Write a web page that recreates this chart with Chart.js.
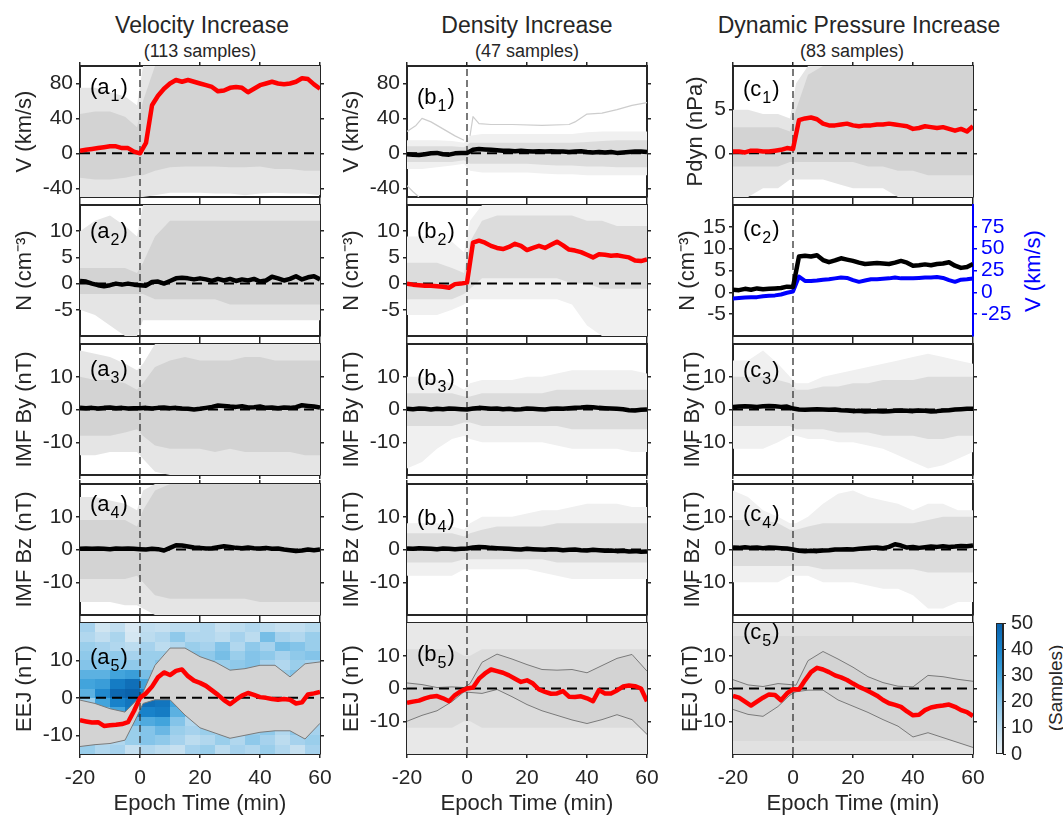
<!DOCTYPE html>
<html>
<head>
<meta charset="utf-8">
<title>Superposed epoch analysis</title>
<script src="https://cdn.jsdelivr.net/npm/chart.js@4.4.1/dist/chart.umd.min.js"></script>
<style>
  html, body { margin: 0; padding: 0; background: #fff; }
  body { position: relative; width: 1063px; height: 818px; overflow: hidden;
         font-family: "Liberation Sans", Arial, Helvetica, sans-serif; color: #262626; }
  canvas { position: absolute; }
  .head { position: absolute; width: 340px; text-align: center; white-space: nowrap; line-height: 1; }
  .vlab { position: absolute; white-space: nowrap; line-height: 1; transform: translate(-50%, -50%) rotate(-90deg); }
</style>
</head>
<body>
<div class="head" style="left:32px;top:14px;font-size:23px">Velocity Increase</div>
<div class="head" style="left:30px;top:42px;font-size:18px">(113 samples)</div>
<div class="head" style="left:357px;top:14px;font-size:23px">Density Increase</div>
<div class="head" style="left:357px;top:42px;font-size:18px">(47 samples)</div>
<div class="head" style="left:689px;top:14px;font-size:23px">Dynamic Pressure Increase</div>
<div class="head" style="left:682px;top:42px;font-size:18px">(83 samples)</div>
<div class="vlab" style="left:1033px;top:271px;font-size:22px;color:#0000ff">V (km/s)</div>
<div class="vlab" style="left:1055px;top:688px;font-size:19px">(Samples)</div>

<script>
const AX = '#262626';
const RED = '#ff0000';
const BLACK = '#000000';
const BLUE = '#0000ff';
Chart.defaults.font.family = '"Liberation Sans", Arial, Helvetica, sans-serif';
Chart.defaults.color = AX;

// panel grid (page pixels)
const COL_X = [80, 407, 733];
const ROW_Y = [66, 205, 344, 484, 623];
const PW = 240, PH = 131;

// epoch time axes (min)
const T2 = [-20,-18,-16,-14,-12,-10,-8,-6,-4,-2,0,2,4,6,8,10,12,14,16,18,20,22,24,26,28,30,32,34,36,38,40,42,44,46,48,50,52,54,56,58,60];
const TB = [-20,-15,-10,-5,-1,1,5,10,15,20,25,30,35,40,45,50,55,60];
const X_TICKS = [-20, 0, 20, 40, 60];

// axis limits and ticks
const V_LIM = [-50, 100], V_TICKS = [-40, 0, 40, 80];
const N_LIM = [-10, 15], N_TICKS = [-5, 0, 5, 10];
const B_LIM = [-20, 20], B_TICKS = [-10, 0, 10];
const EEJ_A_LIM = [-15, 20], EEJ_LIM = [-20, 20], EEJ_TICKS = [-10, 0, 10];
const P_LIM = [-5, 10], P_TICKS = [0, 5];
const N2_LIM = [-10, 20], N2_TICKS = [-5, 0, 5, 10, 15];
const V2_LIM = [-50, 100], V2_TICKS = [-25, 0, 25, 50, 75];

// ---- (a) velocity increase ----
const A1_MEAN = [3,4,5,6,7,8,8,6,6,2,0,12,55,66,74,80,84,82,84,82,80,78,76,71,72,75,76,75,70,74,78,80,82,80,79,80,82,86,85,79,74];
const A1_OH = [75,75,70,65,55,100,100,100,100,100,100,100,100,100,100,100,100,100];
const A1_IH = [45,48,48,42,30,60,100,100,100,100,100,100,100,100,100,100,100,100];
const A1_IL = [-28,-30,-30,-28,-25,-25,-20,-16,-15,-15,-15,-16,-16,-15,-18,-18,-20,-20];
const A1_OL = [-50,-50,-50,-50,-50,-50,-48,-45,-45,-45,-46,-46,-48,-46,-45,-46,-46,-48];

const A2_MEAN = [0.5,0.4,0,-0.3,-0.5,-0.3,0,-0.2,0,-0.2,-0.3,-0.4,0.3,0.4,0,0.5,1,1.1,1,0.8,1,0.8,0.5,0.9,0.6,0.9,0.5,0.8,0.6,0.9,0.4,0.6,1.3,1,0.6,0.9,1.4,0.8,1.2,1.4,0.8];
const A2_OH = [10,12,13,11,9,15,15,15,15,15,15,15,15,15,15,15,15,15];
const A2_IH = [3,3,3,3,2,4,9,12,12,12,12,12,12,12,12,12,12,12];
const A2_IL = [-2,-2,-2,-2,-2,-2,-3,-3,-3,-3,-3,-4,-4,-4,-4,-4,-4,-4];
const A2_OL = [-5,-6,-8,-10,-10,-7,-7,-7,-7,-7,-7,-7,-7,-7,-7,-7,-7,-7];

const A3_MEAN = [0.5,0.4,0.5,0.3,0.5,0.6,0.4,0.5,0.3,0.4,0.4,0.5,0.3,0.5,0.6,0.4,0.5,0.3,0.2,0,0.2,0.5,0.8,1.2,1.1,0.9,0.8,1,0.6,0.7,0.9,0.5,0.6,0.4,0.6,0.5,0.7,1.3,1.1,0.9,0.6];
const A3_OH = [18,17,16,14,12,14,20,20,20,20,20,20,20,20,20,20,20,20];
const A3_IH = [10,9,9,8,6,8,13,15,16,15,15,15,16,16,15,15,15,15];
const A3_IL = [-8,-8,-8,-7,-6,-8,-11,-12,-12,-12,-13,-12,-13,-13,-13,-13,-14,-14];
const A3_OL = [-14,-14,-13,-13,-13,-15,-19,-20,-20,-20,-20,-20,-20,-20,-20,-20,-20,-20];

const A4_MEAN = [0.2,0.3,0.2,0.3,0.2,0.1,0.3,0.2,0.3,0.2,0.1,0,0.2,0.1,-0.3,0.5,1.3,1.2,0.9,0.6,0.5,0.3,0.4,0.7,1,0.8,0.5,0.4,0.6,0.4,0.3,0.5,0.2,0.3,0,-0.2,-0.5,-0.3,0,-0.2,0];
const A4_OH = [16,16,15,14,12,18,20,20,20,20,20,20,20,20,20,20,20,20];
const A4_IH = [9,9,9,9,7,12,18,20,20,20,20,20,20,20,20,20,20,20];
const A4_IL = [-9,-9,-9,-9,-8,-10,-14,-15,-15,-15,-15,-15,-15,-16,-16,-16,-16,-16];
const A4_OL = [-16,-16,-16,-17,-17,-18,-20,-20,-20,-20,-20,-20,-20,-20,-20,-20,-20,-20];

const A5_MEAN = [-6,-6.3,-6.6,-6.5,-7.5,-7.3,-7.2,-7,-6.5,-3.5,0,1.2,3,5.5,6.8,6.1,7.2,7.6,5.8,4.6,4,3.2,2,0.8,-0.6,-1.7,-0.5,0.6,1.3,0.8,0.2,0,-0.3,-0.5,-0.3,-0.5,-1.5,-1.2,0.9,1.2,1.6];
const A5_HI = [-0.6,-1.5,-2.9,-3.8,-0.5,1.5,8.7,13.3,13.3,11,9.6,7.4,7.8,8.7,8.7,5.6,9.1,9.6];
const A5_LO = [-13,-12.5,-12.2,-11.3,-5,-1.5,-0.5,-0.5,-4.6,-8,-9.4,-10.8,-10,-9.2,-8.8,-8.8,-11,-6.8];

// sample counts per (EEJ, time) bin, rows from 20 nT down to -15 nT
const HEAT_T = [-20,-15,-10,-5,0,5,10,15,20,25,30,35,40,45,50,55,60];
const HEAT_E = [20,17.5,15,12.5,10,7.5,5,2.5,0,-2.5,-5,-7.5,-10,-12.5,-15];
const HEAT = [
  [14,6,9,4,9,8,10,10,12,8,10,12,10,8,9,11],
  [12,9,13,5,10,12,18,12,12,10,14,10,22,14,12,16],
  [16,14,12,10,14,10,12,16,14,20,12,18,14,22,20,16],
  [18,16,18,14,16,16,18,20,18,22,16,20,18,14,18,20],
  [20,20,20,18,16,20,22,22,20,16,18,20,14,12,16,14],
  [26,26,30,32,22,24,22,24,22,20,22,20,18,16,20,18],
  [30,32,42,46,30,28,26,24,24,22,22,24,22,22,20,22],
  [26,38,48,50,40,32,30,26,26,24,24,26,24,24,22,24],
  [16,30,40,44,46,44,30,22,22,24,22,22,20,22,20,20],
  [14,22,30,42,40,42,26,18,20,20,20,18,20,18,18,18],
  [16,18,22,24,28,30,20,12,16,16,18,16,16,16,14,14],
  [14,16,18,16,20,24,16,14,16,14,20,16,18,12,18,14],
  [14,10,12,16,20,18,14,10,12,16,12,18,14,10,14,16],
  [16,12,14,8,12,10,8,14,16,10,14,12,16,12,8,14]
];
const CMAP_AT = [0, 10, 20, 30, 40, 50];
const CMAP_RGB = [[238,242,245],[188,220,239],[132,196,233],[66,164,220],[24,130,202],[10,98,172]];
const CB_TICKS = [0, 10, 20, 30, 40, 50];

// ---- (b) density increase ----
const B1_MEAN = [-1,-1.5,-2,-1,0,0.5,-1,-1.5,0,0.5,0.5,4,5,4.5,4,3.5,3,3,2.5,3,2.5,2,2.5,2,2.5,2,2,1.5,2,2.5,1.5,1,1.5,1,1.5,0.5,1,1.5,2,2,1.5];
const B1_OH = [15,15,15,14,12,20,22,22,22,22,22,22,22,24,25,25,25,25];
const B1_IH = [8,8,8,8,7,12,12,12,12,12,12,12,12,13,14,15,15,15];
const B1_IL = [-10,-10,-10,-10,-8,-12,-12,-12,-12,-12,-13,-14,-14,-15,-15,-16,-16,-16];
const B1_OL = [-18,-18,-16,-14,-12,-20,-22,-22,-22,-22,-23,-24,-24,-25,-25,-25,-25,-25];
const B1_X1_T = [-20,-17,-15,-12,-8,-4,-1], B1_X1_V = [25,32,40,36,28,20,15];
const B1_X2_T = [1,2,4,8,15,25,34,36,40,45,50,55,60], B1_X2_V = [20,42,34,33,33,32,33,36,45,46,50,55,58];
const B1_X3_T = [-20,-18,-16], B1_X3_V = [-37,-44,-50];

const B2_MEAN = [0,-0.2,-0.3,-0.4,-0.4,-0.5,-0.6,-0.8,-0.1,0,0.2,7.8,8.2,7.8,7.2,6.8,6.6,7,7.6,7.2,6.4,6.8,7.2,6.8,7.4,8,7.3,6.5,6.3,6,5.5,5,5.6,5.5,5.3,5.4,5.2,5,4.4,4.3,4.6];
const B2_OH = [9,9,9,8,6,12,15,15,15,15,15,15,15,15,15,15,15,15];
const B2_IH = [4,4,4,3,2,8,12,13,13,13,13,13,13,12,12,11,11,11];
const B2_IL = [-3,-3,-3,-3,-2,-1,1,1,1,1,1,1,0,0,-1,-1,-1,-1];
const B2_OL = [-6,-6,-6,-5,-4,-3,-3,-3,-3,-3,-3,-3,-4,-8,-10,-10,-10,-10];

const B3_MEAN = [0.2,0.1,0.3,0.2,0,0.2,0.1,0.3,0.2,0.1,0,0.3,0.5,0.4,0.2,0.3,0.1,0.2,0,0.1,0.3,0.2,0.1,0,0.2,0.3,0.2,0.4,0.5,0.6,0.8,0.7,0.5,0.4,0.3,0.2,0.1,-0.2,-0.3,-0.1,0];
const B3_OH = [10,10,9,8,6,8,9,9,9,10,10,11,12,12,12,12,12,11];
const B3_IH = [5,5,5,5,4,4,5,5,5,5,5,6,6,6,6,6,6,6];
const B3_IL = [-5,-5,-5,-5,-4,-4,-5,-5,-5,-5,-5,-5,-6,-6,-6,-6,-6,-6];
const B3_OL = [-18,-16,-12,-9,-8,-9,-10,-10,-10,-10,-10,-11,-12,-12,-12,-12,-13,-13];

const B4_MEAN = [0.3,0.2,0.4,0.3,0.2,0.1,0.3,0.2,0.1,0.2,0.3,0.6,0.8,0.7,0.5,0.4,0.3,0.2,0.1,0,0.2,0.1,0,-0.1,0.1,0,-0.2,-0.1,0,-0.2,-0.3,-0.1,-0.2,-0.4,-0.3,-0.5,-0.4,-0.6,-0.5,-0.7,-0.6];
const B4_OH = [8,8,8,7,6,8,10,10,10,11,12,12,13,14,14,14,13,13];
const B4_IH = [5,5,5,5,4,5,6,7,7,7,7,8,8,8,8,8,8,8];
const B4_IL = [-4,-4,-4,-4,-3,-3,-3,-3,-3,-3,-3,-4,-4,-4,-4,-4,-4,-4];
const B4_OL = [-8,-8,-8,-8,-6,-6,-6,-6,-6,-6,-7,-8,-9,-9,-9,-9,-9,-9];

const B5_MEAN = [-4.4,-4,-3.7,-3,-2.5,-2.3,-3,-3.9,-2,-0.8,0,0.3,3,4.6,5.8,5.3,4.8,4,3,2,2.5,1.5,-0.3,-1,-1.6,-1.5,-0.8,-2.5,-2.6,-2.4,-3,-3.9,-0.5,-1.5,-1.5,-0.6,0.6,0.9,0.7,0,-3.9];
const B5_HI = [1.7,1.2,0.3,0.5,0.3,1.5,8,10.5,9,7.3,5.8,5.6,5.8,4.8,7,9.2,10.4,5.3];
const B5_LO = [-10,-8.2,-6.8,-4,-1,-1.2,-1.5,-0.3,-2.5,-4.9,-6.8,-8.2,-9.6,-10.7,-9.5,-8,-9.5,-14];
const B5_OH = [20,20,20,20,20,20,20,20,20,20,20,20,20,20,20,20,20,20];
const B5_IH = [12,12,12,12,10,10,12,12,12,12,12,12,12,12,12,12,12,12];
const B5_IL = [-12,-12,-12,-12,-10,-10,-12,-12,-12,-12,-12,-12,-12,-12,-12,-12,-12,-12];
const B5_OL = [-20,-20,-20,-20,-20,-20,-20,-20,-20,-20,-20,-20,-20,-20,-20,-20,-20,-20];

// ---- (c) dynamic pressure increase ----
const C1_MEAN = [0.2,0.2,0.1,0.3,0.3,0.2,0.2,0.3,0.4,0.6,0.5,3.8,4,4.1,3.9,3.4,3.2,3.2,3.3,3.4,3.2,3.1,3.2,3.2,3.3,3.3,3.4,3.3,3.2,3.1,2.8,2.9,3.1,3,2.9,3,2.8,2.6,2.8,2.5,3.1];
const C1_OH = [5,5,4.5,4.5,4,8,10,10,10,10,10,10,10,10,10,10,10,10];
const C1_IH = [3,3,3,3,2.5,5,9,10,10,10,10,10,10,10,10,10,10,10];
const C1_IL = [-1.5,-1.5,-1.5,-1.5,-1,-1,-1,-1,-1,-1,-1.5,-1.5,-2,-2,-2.5,-2.5,-2.5,-2.5];
const C1_OL = [-5,-5,-4,-4,-3,-3,-3,-3,-3.5,-4,-4,-4,-5,-5,-5,-5,-5,-5];

const C2_N = [0.6,0.5,0.8,0.6,0.9,0.7,0.8,0.9,1,1.3,1.2,8.2,8.4,8.2,8.5,7.4,6.9,7.3,7.8,7.5,7.2,6.8,6.5,6.6,6.7,6.6,6.5,6.8,7.2,6.8,6.1,6.2,6.4,6.2,6.5,6.6,6.9,6.1,5.6,5.8,6.5];
const C2_V = [-7,-6.5,-6,-5.5,-5.5,-4.5,-4,-3.5,-2.5,-0.5,1,18,13,13,13.5,14.5,15,16,17,16.5,14,12,13.5,15,15,15.5,16,17,16,16,16,16.5,17,17,17.5,16.5,14,12,14.5,15,16];

const C3_MEAN = [0.8,0.9,1,0.9,0.8,1,1.1,1,0.8,0.9,0.3,0,-0.1,0,0.1,0,-0.1,0,-0.2,-0.3,-0.5,-0.4,-0.6,-0.5,-0.5,-0.6,-0.5,-0.4,-0.3,-0.4,-0.5,-0.3,-0.4,-0.6,-0.5,-0.3,-0.2,0,0.1,0.2,0.2];
const C3_OH = [15,15,18,14,10,8,8,10,11,12,13,14,15,16,17,16,15,14];
const C3_IH = [10,10,10,9,8,6,6,7,7,8,8,9,9,9,10,10,10,10];
const C3_IL = [-5,-5,-5,-5,-5,-6,-6,-6,-7,-7,-7,-8,-8,-8,-9,-9,-8,-8];
const C3_OL = [-12,-12,-12,-10,-8,-8,-9,-9,-10,-10,-11,-12,-14,-16,-18,-17,-15,-13];

const C4_MEAN = [0.6,0.5,0.7,0.5,0.6,0.4,0.6,0.5,0.4,0.3,0,-0.4,-0.5,-0.4,-0.5,-0.3,-0.2,0,0,0.1,0,0.2,0.4,0.5,0.6,0.4,0.8,1.6,1.2,0.6,0.8,0.5,0.7,0.9,0.8,1,0.8,0.9,1.1,1,1.2];
const C4_OH = [18,16,12,10,8,8,10,14,17,18,16,15,14,12,14,14,12,12];
const C4_IH = [9,9,9,8,6,6,7,8,8,8,8,8,8,8,9,10,10,10];
const C4_IL = [-5,-5,-5,-5,-5,-5,-5,-6,-6,-6,-6,-6,-6,-6,-7,-7,-7,-7];
const C4_OL = [-10,-10,-10,-10,-8,-8,-8,-10,-10,-10,-11,-12,-12,-14,-18,-18,-16,-16];

const C5_MEAN = [-2.3,-2.8,-4,-5.2,-4,-2.8,-1.8,-2,-3.6,-1.5,-0.2,-0.3,2.5,5,6.3,5.8,5,4,3.4,2.6,1.5,0.5,-0.3,-1.2,-2.2,-3.5,-4.5,-5,-5.6,-7,-8.2,-8,-6.6,-5.8,-5.4,-5.2,-4.9,-5.6,-6.6,-7.2,-8.4];
const C5_HI = [2.7,1.1,0.6,1.5,1.2,1,8.5,11.3,9,6.5,3.6,1.8,0.7,0.5,4,3.6,2.8,2.2];
const C5_LO = [-6.4,-7.9,-8.5,-5.5,-2,-1,-0.5,-0.5,-3.5,-5.4,-7.3,-9.5,-11.5,-14.8,-13.5,-15,-16.5,-18];
const C5_OH = [20,20,20,20,20,20,20,20,20,20,20,20,20,20,20,20,20,20];
const C5_IH = [16,16,16,16,16,16,16,16,16,16,16,16,16,16,16,16,16,16];
const C5_IL = [-16,-16,-16,-16,-16,-16,-16,-16,-16,-16,-16,-16,-16,-16,-16,-16,-16,-16];
const C5_OL = [-20,-20,-20,-20,-20,-20,-20,-20,-20,-20,-20,-20,-20,-20,-20,-20,-20,-20];

// fill tones for the individual-event envelopes: [dense core, sparse outskirts]
const DENSE = ['#d3d3d3', '#e5e5e5'];
const SPARSE = ['#dcdcdc', '#f0f0f0'];
const SPREAD_EEJ = ['#dcdcdc', '#e8e8e8'];
const SPREAD_C5 = ['#d9d9d9', '#e1e1e1'];

const PANELS = [
  { col: 0, row: 0, tag: ['a', '1'], dy: 28, ylab: 'V (km/s)', yoff: 55, lim: V_LIM, ticks: V_TICKS,
    spread: [A1_OH, A1_IH, A1_IL, A1_OL], shade: DENSE, mean: A1_MEAN, color: RED },
  { col: 0, row: 1, tag: ['a', '2'], dy: 33, ylab: 'N (cm\u207B\u00B3)', yoff: 55, lim: N_LIM, ticks: N_TICKS,
    spread: [A2_OH, A2_IH, A2_IL, A2_OL], shade: DENSE, mean: A2_MEAN, color: BLACK },
  { col: 0, row: 2, tag: ['a', '3'], dy: 32, ylab: 'IMF By (nT)', yoff: 55, lim: B_LIM, ticks: B_TICKS,
    spread: [A3_OH, A3_IH, A3_IL, A3_OL], shade: DENSE, mean: A3_MEAN, color: BLACK },
  { col: 0, row: 3, tag: ['a', '4'], dy: 27, ylab: 'IMF Bz (nT)', yoff: 55, lim: B_LIM, ticks: B_TICKS,
    spread: [A4_OH, A4_IH, A4_IL, A4_OL], shade: DENSE, mean: A4_MEAN, color: BLACK },
  { col: 0, row: 4, tag: ['a', '5'], dy: 41, ylab: 'EEJ (nT)', yoff: 55, lim: EEJ_A_LIM, ticks: EEJ_TICKS,
    heat: HEAT, std: [A5_HI, A5_LO], mean: A5_MEAN, color: RED },

  { col: 1, row: 0, tag: ['b', '1'], dy: 38, ylab: 'V (km/s)', yoff: 55, lim: V_LIM, ticks: V_TICKS,
    spread: [B1_OH, B1_IH, B1_IL, B1_OL], shade: SPARSE, mean: B1_MEAN, color: BLACK,
    extra: [[B1_X1_T, B1_X1_V], [B1_X2_T, B1_X2_V], [B1_X3_T, B1_X3_V]] },
  { col: 1, row: 1, tag: ['b', '2'], dy: 33, ylab: 'N (cm\u207B\u00B3)', yoff: 55, lim: N_LIM, ticks: N_TICKS,
    spread: [B2_OH, B2_IH, B2_IL, B2_OL], shade: SPARSE, mean: B2_MEAN, color: RED },
  { col: 1, row: 2, tag: ['b', '3'], dy: 41, ylab: 'IMF By (nT)', yoff: 55, lim: B_LIM, ticks: B_TICKS,
    spread: [B3_OH, B3_IH, B3_IL, B3_OL], shade: SPARSE, mean: B3_MEAN, color: BLACK },
  { col: 1, row: 3, tag: ['b', '4'], dy: 41, ylab: 'IMF Bz (nT)', yoff: 55, lim: B_LIM, ticks: B_TICKS,
    spread: [B4_OH, B4_IH, B4_IL, B4_OL], shade: SPARSE, mean: B4_MEAN, color: BLACK },
  { col: 1, row: 4, tag: ['b', '5'], dy: 38, ylab: 'EEJ (nT)', yoff: 55, lim: EEJ_LIM, ticks: EEJ_TICKS,
    spread: [B5_OH, B5_IH, B5_IL, B5_OL], shade: SPREAD_EEJ, std: [B5_HI, B5_LO], mean: B5_MEAN, color: RED },

  { col: 2, row: 0, tag: ['c', '1'], dy: 30, ylab: 'Pdyn (nPa)', yoff: 37, lim: P_LIM, ticks: P_TICKS,
    spread: [C1_OH, C1_IH, C1_IL, C1_OL], shade: DENSE, mean: C1_MEAN, color: RED },
  { col: 2, row: 1, tag: ['c', '2'], dy: 31, ylab: 'N (cm\u207B\u00B3)', yoff: 45, lim: N2_LIM, ticks: N2_TICKS,
    mean: C2_N, color: BLACK, noZero: true,
    right: { lim: V2_LIM, ticks: V2_TICKS, data: C2_V, color: BLUE } },
  { col: 2, row: 2, tag: ['c', '3'], dy: 33, ylab: 'IMF By (nT)', yoff: 40, lim: B_LIM, ticks: B_TICKS,
    spread: [C3_OH, C3_IH, C3_IL, C3_OL], shade: SPARSE, mean: C3_MEAN, color: BLACK },
  { col: 2, row: 3, tag: ['c', '4'], dy: 37, ylab: 'IMF Bz (nT)', yoff: 40, lim: B_LIM, ticks: B_TICKS,
    spread: [C4_OH, C4_IH, C4_IL, C4_OL], shade: SPARSE, mean: C4_MEAN, color: BLACK },
  { col: 2, row: 4, tag: ['c', '5'], dy: 16, ylab: 'EEJ (nT)', yoff: 42, lim: EEJ_LIM, ticks: EEJ_TICKS,
    spread: [C5_OH, C5_IH, C5_IL, C5_OL], shade: SPREAD_C5, std: [C5_HI, C5_LO], mean: C5_MEAN, color: RED }
];

function pts(ts, vs) {
  return ts.map((t, i) => ({ x: t, y: vs[i] }));
}

function countColor(n) {
  let k = 0;
  while (k < CMAP_AT.length - 2 && n > CMAP_AT[k + 1]) k++;
  const f = Math.min(1, Math.max(0, (n - CMAP_AT[k]) / (CMAP_AT[k + 1] - CMAP_AT[k])));
  const a = CMAP_RGB[k], b = CMAP_RGB[k + 1];
  return 'rgb(' + a.map((c, i) => Math.round(c + (b[i] - c) * f)).join(',') + ')';
}

function heatLayer(counts) {
  return {
    id: 'heatLayer',
    beforeDatasetsDraw(chart) {
      const { ctx, scales: { x, y } } = chart;
      ctx.save();
      counts.forEach((row, i) => row.forEach((n, j) => {
        const x0 = Math.round(x.getPixelForValue(HEAT_T[j]));
        const x1 = Math.round(x.getPixelForValue(HEAT_T[j + 1]));
        const y0 = Math.round(y.getPixelForValue(HEAT_E[i]));
        const y1 = Math.round(y.getPixelForValue(HEAT_E[i + 1]));
        ctx.fillStyle = countColor(n);
        ctx.fillRect(x0, y0, x1 - x0, y1 - y0);
      }));
      ctx.restore();
    }
  };
}

// "(a1)"-style tag with a subscript index
function panelTag(letter, sub, dy) {
  return {
    id: 'panelTag',
    afterDatasetsDraw(chart) {
      const { ctx, chartArea } = chart;
      const fam = Chart.defaults.font.family;
      let x = chartArea.left + 10;
      const y = chartArea.top + dy;
      ctx.save();
      ctx.fillStyle = '#000';
      ctx.textBaseline = 'alphabetic';
      ctx.font = '22px ' + fam;
      const head = '(' + letter;
      ctx.fillText(head, x, y);
      x += ctx.measureText(head).width + 1;
      ctx.font = '16px ' + fam;
      ctx.fillText(sub, x, y + 7);
      x += ctx.measureText(sub).width + 1;
      ctx.font = '22px ' + fam;
      ctx.fillText(')', x, y);
      ctx.restore();
    }
  };
}

function buildDatasets(p) {
  const ds = [];
  const base = { xAxisID: 'x', yAxisID: 'y', pointRadius: 0, tension: 0, borderJoinStyle: 'round' };
  const edge = { borderWidth: 0, borderColor: 'rgba(0,0,0,0)' };
  if (p.spread) {
    const [oh, ih, il, ol] = p.spread;
    ds.push({ ...base, ...edge, data: pts(TB, oh), fill: false, order: 6 });
    ds.push({ ...base, ...edge, data: pts(TB, ol), fill: '-1', backgroundColor: p.shade[1], order: 6 });
    ds.push({ ...base, ...edge, data: pts(TB, ih), fill: false, order: 5 });
    ds.push({ ...base, ...edge, data: pts(TB, il), fill: '-1', backgroundColor: p.shade[0], order: 5 });
  }
  (p.extra || []).forEach(([t, v]) => {
    ds.push({ ...base, data: pts(t, v), borderColor: '#cdcdcd', borderWidth: 1.2, fill: false, order: 5 });
  });
  if (p.std) {
    ds.push({ ...base, data: pts(TB, p.std[0]), borderColor: '#7a7a7a', borderWidth: 1, fill: false, order: 4 });
    ds.push({ ...base, data: pts(TB, p.std[1]), borderColor: '#7a7a7a', borderWidth: 1, fill: '-1',
              backgroundColor: '#d3d3d3', order: 4 });
  }
  if (!p.noZero) {
    ds.push({ ...base, data: [{ x: -20, y: 0 }, { x: 60, y: 0 }], borderColor: '#000', borderWidth: 2,
              borderDash: [10, 6], fill: false, order: 3 });
  }
  ds.push({ ...base, data: [{ x: 0, y: p.lim[0] }, { x: 0, y: p.lim[1] }], borderColor: '#333', borderWidth: 1.3,
            borderDash: [7, 4], fill: false, order: 3 });
  if (p.right) {
    ds.push({ ...base, yAxisID: 'yr', data: pts(T2, p.right.data), borderColor: p.right.color, borderWidth: 4,
              fill: false, order: 1 });
  }
  ds.push({ ...base, data: pts(T2, p.mean), borderColor: p.color, borderWidth: 4.5, fill: false, order: 0 });
  return ds;
}

const setTicks = list => s => { s.ticks = list.map(v => ({ value: v })); };
const gridOpts = color => ({ drawOnChartArea: false, drawTicks: true, tickLength: 4, color: color, lineWidth: 1.5 });
const borderOpts = color => ({ display: true, color: color, width: 2 });

function makePanel(p) {
  const L = 80, T = 18;
  const R = p.right ? 80 : 24;
  const B = p.row === 4 ? 64 : 18;
  const w = L + PW + R, h = T + PH + B;
  const cv = document.createElement('canvas');
  cv.width = w; cv.height = h;
  cv.style.width = w + 'px'; cv.style.height = h + 'px';
  cv.style.left = (COL_X[p.col] - L) + 'px';
  cv.style.top = (ROW_Y[p.row] - T) + 'px';
  document.body.appendChild(cv);

  const bottomRow = p.row === 4;
  const rightAxis = p.right || { lim: p.lim, ticks: p.ticks, color: AX };
  const scales = {
    x: {
      type: 'linear', position: 'bottom', min: -20, max: 60,
      afterBuildTicks: setTicks(X_TICKS), afterFit: s => { s.height = B; },
      ticks: { display: bottomRow, font: { size: 21 }, color: AX, padding: 8, maxRotation: 0, autoSkip: false },
      grid: gridOpts(AX), border: borderOpts(AX),
      title: { display: bottomRow, text: 'Epoch Time (min)', font: { size: 22 }, color: AX, padding: { top: 0, bottom: 1 } }
    },
    xt: {
      type: 'linear', position: 'top', min: -20, max: 60,
      afterBuildTicks: setTicks(X_TICKS), afterFit: s => { s.height = T; },
      ticks: { display: false }, grid: gridOpts(AX), border: borderOpts(AX)
    },
    y: {
      type: 'linear', position: 'left', min: p.lim[0], max: p.lim[1],
      afterBuildTicks: setTicks(p.ticks), afterFit: s => { s.width = L; },
      ticks: { font: { size: 21 }, color: AX, padding: 3, autoSkip: false, callback: v => String(v) },
      grid: gridOpts(AX), border: borderOpts(AX),
      title: { display: true, text: p.ylab, font: { size: 22 }, color: AX,
               padding: { top: L - p.yoff - 13.2, bottom: 0 } }
    },
    yr: {
      type: 'linear', position: 'right', min: rightAxis.lim[0], max: rightAxis.lim[1],
      afterBuildTicks: setTicks(rightAxis.ticks), afterFit: s => { s.width = R; },
      ticks: { display: !!p.right, font: { size: 21 }, color: rightAxis.color, padding: 4, autoSkip: false,
               callback: v => String(v) },
      grid: gridOpts(rightAxis.color), border: borderOpts(rightAxis.color)
    }
  };

  const plugins = [panelTag(p.tag[0], p.tag[1], p.dy)];
  if (p.heat) plugins.unshift(heatLayer(p.heat));

  new Chart(cv, {
    type: 'line',
    data: { datasets: buildDatasets(p) },
    options: {
      responsive: false, animation: false, devicePixelRatio: 1, events: [],
      layout: { padding: 0 },
      plugins: { legend: { display: false }, tooltip: { enabled: false } },
      scales
    },
    plugins
  });
}

PANELS.forEach(makePanel);

// colour scale for the EEJ sample-count map
(function makeColorbar() {
  const cv = document.createElement('canvas');
  const w = 73, h = 18 + PH + 18;
  cv.width = w; cv.height = h;
  cv.style.width = w + 'px'; cv.style.height = h + 'px';
  cv.style.left = '990px'; cv.style.top = (ROW_Y[4] - 18) + 'px';
  document.body.appendChild(cv);

  const fillBar = {
    id: 'fillBar',
    beforeDatasetsDraw(chart) {
      const { ctx, chartArea: a, scales: { y } } = chart;
      const y0 = y.getPixelForValue(CB_TICKS[0]);
      const y1 = y.getPixelForValue(CB_TICKS[CB_TICKS.length - 1]);
      const g = ctx.createLinearGradient(0, y0, 0, y1);
      CMAP_AT.forEach((v, i) => g.addColorStop((v - CMAP_AT[0]) / (CMAP_AT[CMAP_AT.length - 1] - CMAP_AT[0]),
        'rgb(' + CMAP_RGB[i].join(',') + ')'));
      ctx.save();
      ctx.fillStyle = g;
      ctx.fillRect(a.left, a.top, a.right - a.left, a.bottom - a.top);
      ctx.strokeStyle = AX;
      ctx.lineWidth = 1;
      ctx.strokeRect(a.left + 0.5, a.top + 0.5, a.right - a.left - 1, a.bottom - a.top - 1);
      ctx.restore();
    }
  };

  new Chart(cv, {
    type: 'line',
    data: { datasets: [] },
    options: {
      responsive: false, animation: false, devicePixelRatio: 1, events: [],
      layout: { padding: { left: 6, top: 18, bottom: 18, right: 0 } },
      plugins: { legend: { display: false }, tooltip: { enabled: false } },
      scales: {
        x: { type: 'linear', display: false, min: 0, max: 1 },
        y: {
          type: 'linear', position: 'right', min: 0, max: 50,
          afterBuildTicks: setTicks(CB_TICKS), afterFit: s => { s.width = 60; },
          ticks: { font: { size: 20 }, color: AX, padding: 5, autoSkip: false, callback: v => String(v) },
          grid: { drawOnChartArea: false, drawTicks: true, tickLength: 3, color: AX, lineWidth: 1 },
          border: { display: true, color: AX, width: 1 }
        }
      }
    },
    plugins: [fillBar]
  });
})();
</script>
</body>
</html>
